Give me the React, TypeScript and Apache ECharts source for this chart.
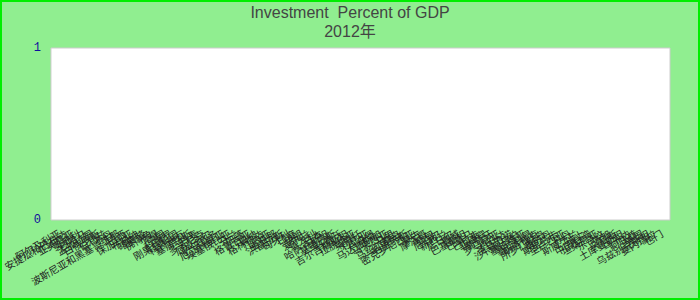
import React, { useEffect, useRef } from "react";
import * as echarts from "echarts";

const titleLines = ["Investment  Percent of GDP", "2012年"];
const countries: string[] = [
  "阿富汗", "阿尔巴尼亚", "阿尔及利亚", "安哥拉", "安提瓜和巴布达", "阿根廷", "亚美尼亚", "澳大利亚", "奥地利", "阿塞拜疆",
  "巴哈马", "巴林", "孟加拉国", "巴巴多斯", "白俄罗斯", "比利时", "伯利兹", "贝宁", "不丹", "玻利维亚",
  "波斯尼亚和黑塞哥维那", "博茨瓦纳", "巴西", "文莱", "保加利亚", "布基纳法索", "布隆迪", "柬埔寨", "喀麦隆", "加拿大",
  "佛得角", "中非共和国", "乍得", "智利", "中国", "哥伦比亚", "科摩罗", "刚果民主共和国", "刚果共和国", "哥斯达黎加",
  "科特迪瓦", "克罗地亚", "塞浦路斯", "捷克", "丹麦", "吉布提", "多米尼克", "多米尼加共和国", "厄瓜多尔", "埃及",
  "萨尔瓦多", "赤道几内亚", "厄立特里亚", "爱沙尼亚", "埃塞俄比亚", "斐济", "芬兰", "法国", "加蓬", "冈比亚",
  "格鲁吉亚", "德国", "加纳", "希腊", "格林纳达", "危地马拉", "几内亚", "几内亚比绍", "圭亚那", "海地",
  "洪都拉斯", "中国香港", "匈牙利", "冰岛", "印度", "印度尼西亚", "伊朗", "伊拉克", "爱尔兰", "以色列",
  "意大利", "牙买加", "日本", "约旦", "哈萨克斯坦", "肯尼亚", "基里巴斯", "韩国", "科索沃", "科威特",
  "吉尔吉斯斯坦", "老挝", "拉脱维亚", "黎巴嫩", "莱索托", "利比里亚", "利比亚", "立陶宛", "卢森堡", "马其顿",
  "马达加斯加", "马拉维", "马来西亚", "马尔代夫", "马里", "马耳他", "马绍尔群岛", "毛里塔尼亚", "毛里求斯", "墨西哥",
  "密克罗尼西亚", "摩尔多瓦", "蒙古", "黑山", "摩洛哥", "莫桑比克", "缅甸", "纳米比亚", "尼泊尔", "荷兰",
  "新西兰", "尼加拉瓜", "尼日尔", "尼日利亚", "挪威", "阿曼", "巴基斯坦", "帕劳", "巴拿马", "巴布亚新几内亚",
  "巴拉圭", "秘鲁", "菲律宾", "波兰", "葡萄牙", "卡塔尔", "罗马尼亚", "俄罗斯", "卢旺达", "萨摩亚",
  "圣马力诺", "圣多美和普林西比", "沙特阿拉伯", "塞内加尔", "塞尔维亚", "塞舌尔", "塞拉利昂", "新加坡", "斯洛伐克", "斯洛文尼亚",
  "所罗门群岛", "南非", "南苏丹", "西班牙", "斯里兰卡", "圣基茨和尼维斯", "圣卢西亚", "圣文森特和格林纳丁斯", "苏丹", "苏里南",
  "斯威士兰", "瑞典", "瑞士", "叙利亚", "中国台湾", "塔吉克斯坦", "坦桑尼亚", "泰国", "东帝汶", "多哥",
  "汤加", "特立尼达和多巴哥", "突尼斯", "土耳其", "土库曼斯坦", "图瓦卢", "乌干达", "乌克兰", "阿联酋", "英国",
  "美国", "乌拉圭", "乌兹别克斯坦", "瓦努阿图", "委内瑞拉", "越南", "也门", "赞比亚", "津巴布韦",
];
const investmentValues: (number | null)[] = [];
const yMin = 0;
const yMax = 1;

export default function App() {
  const ref = useRef<HTMLDivElement>(null);
  useEffect(() => {
    if (!ref.current) return;
    const chart = echarts.init(ref.current, undefined, { renderer: "svg" });
    chart.setOption({
      animation: false,
      backgroundColor: "#90EE90",
      title: {
        text: titleLines.join("\n"),
        left: "center",
        top: 3,
        padding: 0,
        textStyle: {
          fontFamily: "Liberation Sans, Noto Sans CJK SC",
          fontSize: 16,
          fontWeight: "normal",
          color: "#444",
          lineHeight: 19,
        },
      },
      graphic: [
        {
          type: "rect",
          shape: { x: 1, y: 1, width: 698, height: 298 },
          style: { fill: "none", stroke: "#00ee00", lineWidth: 2 },
          silent: true,
          z: 100,
        },
      ],
      grid: {
        left: 50,
        right: 30,
        top: 48,
        bottom: 80,
        show: true,
        backgroundColor: "#ffffff",
        borderColor: "#cccccc",
        borderWidth: 1,
      },
      xAxis: {
        type: "category",
        data: countries,
        axisLine: { show: false },
        axisTick: { show: false },
        axisLabel: {
          interval: 1,
          rotate: 30,
          fontSize: 10,
          margin: 12,
          color: "#222",
          fontFamily: "Noto Sans CJK SC",
        },
      },
      yAxis: {
        type: "value",
        min: yMin,
        max: yMax,
        interval: 1,
        axisLine: { show: false },
        axisTick: { show: false },
        splitLine: { show: false },
        axisLabel: {
          color: "#10109c",
          fontFamily: "Liberation Mono",
          fontSize: 12,
          margin: 10,
        },
      },
      series: [
        {
          type: "bar",
          data: investmentValues,
        },
      ],
    });
    return () => chart.dispose();
  }, []);
  return (
    <div
      ref={ref}
      style={{ position: "absolute", left: 0, top: 0, width: 700, height: 300 }}
    />
  );
}
